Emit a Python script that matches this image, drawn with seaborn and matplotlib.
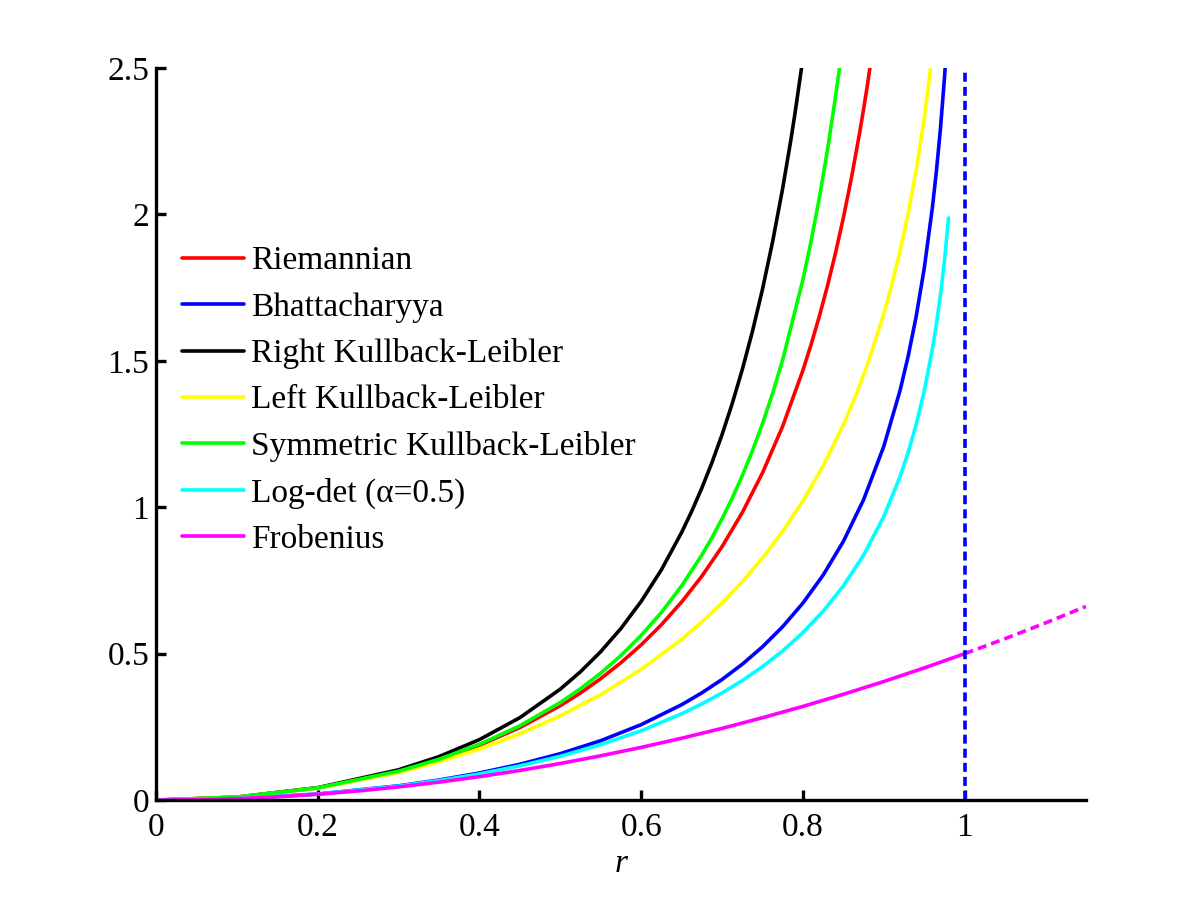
import seaborn as sns
import matplotlib
matplotlib.use("Agg")
import matplotlib.pyplot as plt

# values
r_riem = [0, 0.1, 0.2, 0.3, 0.35, 0.4, 0.45, 0.5, 0.525, 0.55, 0.575, 0.6, 0.625, 0.65,
          0.675, 0.7, 0.725, 0.75, 0.775, 0.8, 0.81, 0.82, 0.83, 0.84, 0.85, 0.86, 0.87,
          0.875, 0.88, 0.89]
riemannian = [0, 0.0101, 0.0415, 0.0980, 0.1378, 0.1871, 0.2477, 0.3224, 0.3661, 0.4148,
              0.4693, 0.5302, 0.5989, 0.6765, 0.7646, 0.8656, 0.9820, 1.1175, 1.2771,
              1.4679, 1.5550, 1.6496, 1.7525, 1.8651, 1.9888, 2.1254, 2.2772, 2.3596,
              2.4470, 2.6386]

r_bhat = [0, 0.1, 0.2, 0.3, 0.35, 0.4, 0.45, 0.5, 0.55, 0.6, 0.65, 0.675, 0.7, 0.725,
          0.75, 0.775, 0.8, 0.825, 0.85, 0.875, 0.9, 0.92, 0.93, 0.94, 0.95, 0.96, 0.965,
          0.97, 0.975, 0.98]
bhattacharyya = [0, 0.0050, 0.0207, 0.0488, 0.0685, 0.0927, 0.1224, 0.1586, 0.2030, 0.2577,
                 0.3258, 0.3663, 0.4120, 0.4640, 0.5236, 0.5924, 0.6729, 0.7684, 0.8835,
                 1.0259, 1.2082, 1.3979, 1.5145, 1.6515, 1.8165, 2.0222, 2.1469, 2.2922,
                 2.4656, 2.6798]

r_rkl = [0, 0.1, 0.2, 0.3, 0.35, 0.4, 0.45, 0.5, 0.525, 0.55, 0.575, 0.6, 0.625, 0.65,
         0.6625, 0.675, 0.6875, 0.7, 0.7125, 0.725, 0.7375, 0.75, 0.7625, 0.775, 0.785,
         0.79, 0.8]
right_kl = [0, 0.0102, 0.0425, 0.1035, 0.1485, 0.2066, 0.2816, 0.3790, 0.4386, 0.5071,
            0.5865, 0.6787, 0.7867, 0.9142, 0.9866, 1.0658, 1.1527, 1.2482, 1.3536,
            1.4703, 1.6000, 1.7448, 1.9070, 2.0900, 2.2537, 2.3421, 2.5339]

r_lkl = [0, 0.1, 0.2, 0.3, 0.35, 0.4, 0.45, 0.5, 0.55, 0.6, 0.65, 0.675, 0.7, 0.725,
         0.75, 0.775, 0.8, 0.825, 0.85, 0.865, 0.88, 0.9, 0.91, 0.92, 0.93, 0.94, 0.95,
         0.96]
left_kl = [0, 0.0101, 0.0408, 0.0943, 0.1307, 0.1744, 0.2263, 0.2877, 0.3603, 0.4463,
           0.5491, 0.6081, 0.6733, 0.7458, 0.8267, 0.9179, 1.0217, 1.1414, 1.2819,
           1.3792, 1.4890, 1.6607, 1.7608, 1.8734, 2.0017, 2.1507, 2.3279, 2.5459]

r_skl = [0, 0.1, 0.2, 0.3, 0.35, 0.4, 0.45, 0.5, 0.525, 0.55, 0.575, 0.6, 0.625, 0.65,
         0.675, 0.6875, 0.7, 0.7125, 0.725, 0.7375, 0.75, 0.7625, 0.775, 0.8, 0.81, 0.82,
         0.83, 0.84, 0.845, 0.85, 0.86]
sym_kl = [0, 0.0101, 0.0417, 0.0989, 0.1396, 0.1905, 0.2539, 0.3333, 0.3805, 0.4337,
          0.4939, 0.5625, 0.6410, 0.7316, 0.8370, 0.8963, 0.9608, 1.0311, 1.1080, 1.1925,
          1.2857, 1.3890, 1.5039, 1.7778, 1.9078, 2.0525, 2.2144, 2.3967, 2.4968, 2.6036,
          2.8402]

r_ld = [0, 0.1, 0.2, 0.3, 0.35, 0.4, 0.45, 0.5, 0.55, 0.6, 0.65, 0.675, 0.7, 0.725,
        0.75, 0.775, 0.8, 0.825, 0.85, 0.875, 0.9, 0.92, 0.93, 0.94, 0.95, 0.96, 0.965,
        0.97, 0.975, 0.98]
logdet = [0, 0.0050, 0.0205, 0.0478, 0.0666, 0.0894, 0.1169, 0.1498, 0.1893, 0.2368,
          0.2947, 0.3284, 0.3659, 0.4081, 0.4557, 0.5099, 0.5722, 0.6450, 0.7314, 0.8365,
          0.9686, 1.1040, 1.1863, 1.2823, 1.3971, 1.5391, 1.6247, 1.7241, 1.8422, 1.9876]

r_frob = [0, 0.05, 0.1, 0.15, 0.2, 0.25, 0.3, 0.35, 0.4, 0.45, 0.5, 0.55, 0.6, 0.65, 0.7,
          0.75, 0.8, 0.85, 0.9, 0.95, 1.0]
frobenius = [0, 0.0013, 0.005, 0.0113, 0.02, 0.0313, 0.045, 0.0613, 0.08, 0.1013, 0.125,
             0.1513, 0.18, 0.2113, 0.245, 0.2813, 0.32, 0.3613, 0.405, 0.4513, 0.5]
r_frob_ext = [1.0, 1.05, 1.1, 1.15]
frobenius_ext = [0.5, 0.5513, 0.605, 0.6613]

r_limit = [1, 1]
y_limit = [0, 2.5]

labels = ["Riemannian", "Bhattacharyya", "Right Kullback-Leibler", "Left Kullback-Leibler",
          "Symmetric Kullback-Leibler", "Log-det (\u03b1=0.5)", "Frobenius"]
colors = ["#ff0000", "#0000ff", "#000000", "#ffff00", "#00ff00", "#00ffff", "#ff00ff"]

sns.set_style("ticks")
plt.rcParams['font.family'] = ['Liberation Serif', 'DejaVu Serif']
plt.rcParams['xtick.direction'] = 'in'
plt.rcParams['ytick.direction'] = 'in'
plt.rcParams['text.color'] = 'black'
plt.rcParams['axes.labelcolor'] = 'black'
plt.rcParams['xtick.color'] = 'black'
plt.rcParams['ytick.color'] = 'black'
plt.rcParams['axes.edgecolor'] = 'black'

fig = plt.figure(figsize=(12, 9), dpi=100)
ax = fig.add_axes([0.13, 0.111, 0.775, 0.8135])

lw = 2.6
series = [(r_riem, riemannian), (r_bhat, bhattacharyya), (r_rkl, right_kl), (r_lkl, left_kl),
          (r_skl, sym_kl), (r_ld, logdet), (r_frob, frobenius)]
for (xs, ys), lab, col in zip(series, labels, colors):
    sns.lineplot(x=xs, y=ys, color=col, lw=lw, label=lab, ax=ax, sort=False, estimator=None)

ax.plot(r_frob_ext, frobenius_ext, color="#ff00ff", lw=lw, dashes=(2.5, 1.4))
ax.plot(r_limit, y_limit, color="#0000ff", lw=lw, dashes=(2.5, 1.4))

ax.set_xlim(0, 1.15)
ax.set_ylim(0, 2.5)
ax.set_xticks([0, 0.2, 0.4, 0.6, 0.8, 1])
ax.set_xticklabels(["0", "0.2", "0.4", "0.6", "0.8", "1"])
ax.set_yticks([0, 0.5, 1, 1.5, 2, 2.5])
ax.set_yticklabels(["0", "0.5", "1", "1.5", "2", "2.5"])
ax.tick_params(axis='both', labelsize=24, length=7, width=2.4)
ax.tick_params(axis='x', pad=9)
ax.tick_params(axis='y', pad=5)

for side in ['top', 'right']:
    ax.spines[side].set_visible(False)
for side in ['left', 'bottom']:
    ax.spines[side].set_linewidth(2.4)

ax.set_xlabel("r", fontsize=24, style='italic', labelpad=4)
ax.set_ylabel("")

ax.legend(loc='upper left', bbox_to_anchor=(0.028, 0.757), frameon=False, fontsize=24,
          handlelength=1.85, handletextpad=0.22, labelspacing=0.47, borderpad=0,
          borderaxespad=0)

fig.savefig("out.png", dpi=100)
